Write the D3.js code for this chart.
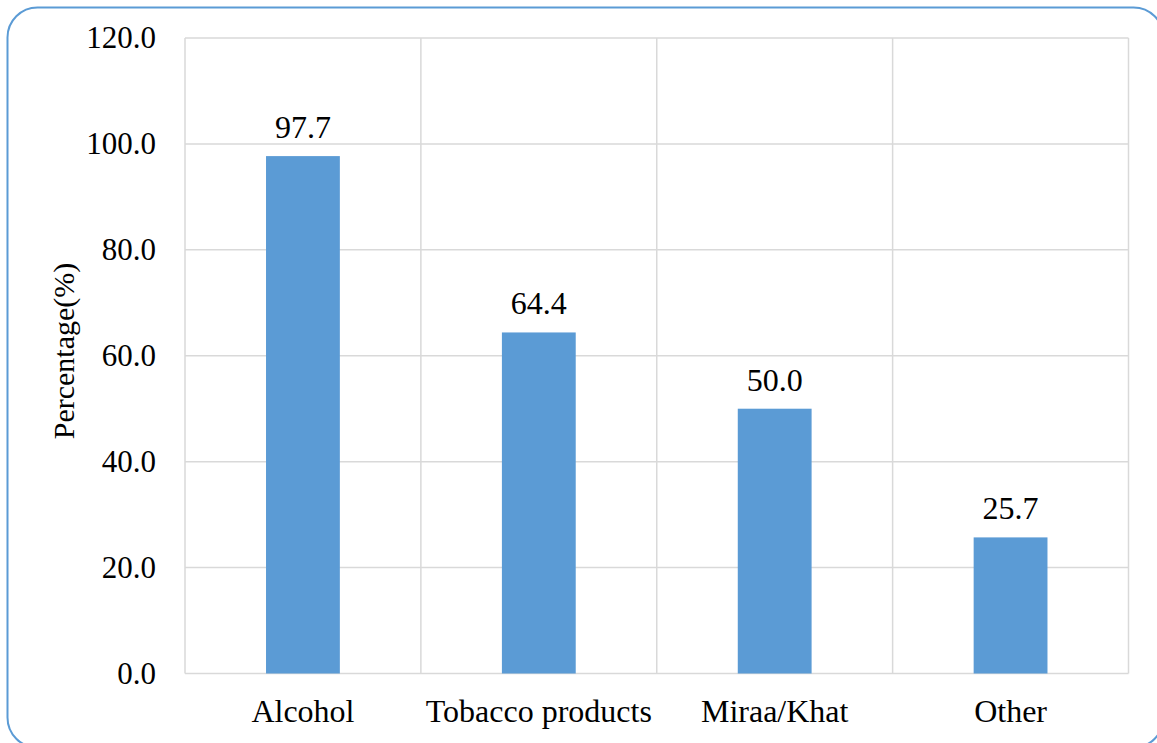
<!DOCTYPE html>
<html>
<head>
<meta charset="utf-8">
<script src="https://cdn.jsdelivr.net/npm/d3@7"></script>
<style>
  html, body { margin: 0; padding: 0; background: #fff; }
  svg { display: block; }
</style>
</head>
<body>
<svg id="chart" width="1157" height="743"></svg>
<script>
// Substance categories and the share of respondents reporting use
const categories = ["Alcohol", "Tobacco products", "Miraa/Khat", "Other"];
const percentages = [97.7, 64.4, 50.0, 25.7];
const yTicks = [0, 20, 40, 60, 80, 100, 120];
const yTitle = "Percentage(%)";

const W = 1157, H = 743;
const margin = { left: 185, right: 28.5, top: 38, bottom: 69.5 };
const font = "'Liberation Serif', 'Times New Roman', serif";

const svg = d3.select("#chart");

// Rounded chart frame
svg.append("rect")
  .attr("x", 7.5).attr("y", 7.5)
  .attr("width", 1156).attr("height", 740)
  .attr("rx", 30).attr("ry", 30)
  .attr("fill", "#fff")
  .attr("stroke", "#5b9bd5")
  .attr("stroke-width", 2);

const x = d3.scaleBand()
  .domain(categories)
  .range([margin.left, W - margin.right]);

const y = d3.scaleLinear()
  .domain([0, 120])
  .range([H - margin.bottom, margin.top]);

const grid = svg.append("g");

// Horizontal gridlines
grid.selectAll("line.h")
  .data(yTicks)
  .join("line")
  .attr("class", "h")
  .attr("x1", margin.left).attr("x2", W - margin.right)
  .attr("y1", d => y(d)).attr("y2", d => y(d))
  .attr("stroke", "#d9d9d9").attr("stroke-width", 1.5);

// Vertical category separators
const bounds = categories.map(c => x(c)).concat([x.range()[1]]);
grid.selectAll("line.v")
  .data(bounds)
  .join("line")
  .attr("class", "v")
  .attr("x1", d => d).attr("x2", d => d)
  .attr("y1", margin.top).attr("y2", y(0))
  .attr("stroke", "#d9d9d9").attr("stroke-width", 1.5);

// Y-axis tick labels
const yAxis = d3.axisLeft(y).tickValues(yTicks).tickFormat(d3.format(".1f")).tickSize(0).tickPadding(29);
svg.append("g")
  .attr("transform", `translate(${margin.left},0)`)
  .call(yAxis)
  .call(g => g.select(".domain").remove())
  .call(g => g.selectAll("text")
    .attr("font-family", font).attr("font-size", 31).attr("fill", "#000"));

// X-axis category labels
const xAxis = d3.axisBottom(x).tickSize(0).tickPadding(26);
svg.append("g")
  .attr("transform", `translate(0,${y(0)})`)
  .call(xAxis)
  .call(g => g.select(".domain").remove())
  .call(g => g.selectAll("text")
    .attr("font-family", font).attr("font-size", 32).attr("fill", "#000"));

// Bars
const barW = x.bandwidth() * 0.313;
svg.append("g")
  .selectAll("rect")
  .data(percentages)
  .join("rect")
  .attr("x", (d, i) => x(categories[i]) + x.bandwidth() / 2 - barW / 2)
  .attr("y", d => y(d))
  .attr("width", barW)
  .attr("height", d => y(0) - y(d))
  .attr("fill", "#5b9bd5");

// Value labels
svg.append("g")
  .selectAll("text")
  .data(percentages)
  .join("text")
  .attr("x", (d, i) => x(categories[i]) + x.bandwidth() / 2)
  .attr("y", d => y(d) - 18)
  .attr("text-anchor", "middle")
  .attr("font-family", font).attr("font-size", 32).attr("fill", "#000")
  .text(d => d3.format(".1f")(d));

// Y-axis title
svg.append("text")
  .attr("transform", "translate(74,351) rotate(-90)")
  .attr("text-anchor", "middle")
  .attr("font-family", font).attr("font-size", 30).attr("fill", "#000")
  .text(yTitle);
</script>
</body>
</html>
